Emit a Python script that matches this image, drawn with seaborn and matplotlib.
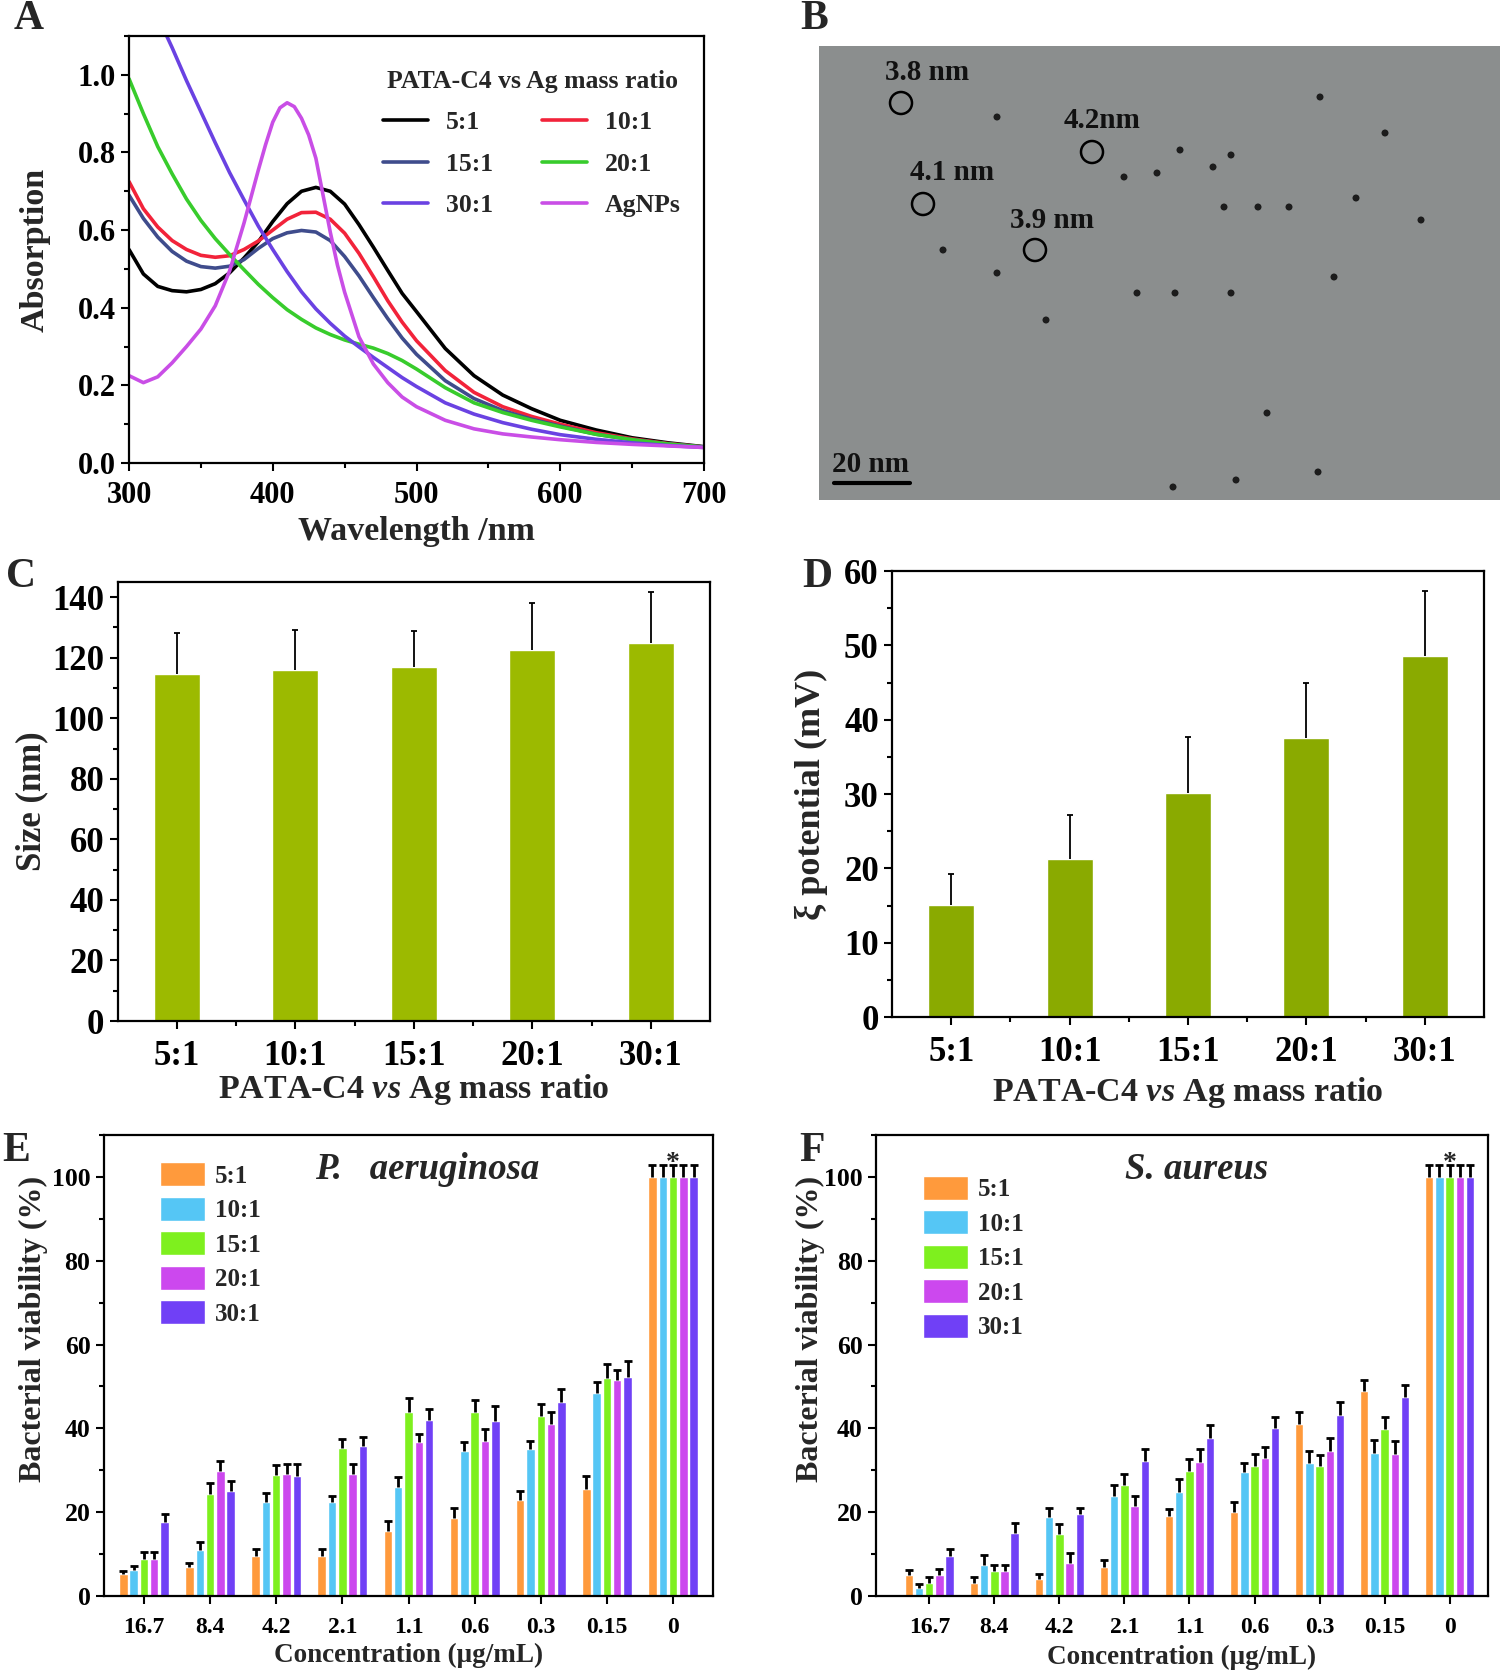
import numpy as np
import pandas as pd
import seaborn as sns
import matplotlib.pyplot as plt
from matplotlib.patches import Patch, Circle
from matplotlib.lines import Line2D
from matplotlib.ticker import MultipleLocator

# ---- panel A: UV-vis spectra ----
wavelength = [300, 310, 320, 330, 340, 350, 360, 370, 380, 390, 400, 410, 420, 430, 440,
              450, 460, 470, 480, 490, 500, 520, 540, 560, 580, 600, 625, 650, 675, 700]
abs_5 = [0.55, 0.487, 0.455, 0.444, 0.441, 0.447, 0.462, 0.49, 0.528, 0.57, 0.622, 0.668, 0.70, 0.71, 0.70,
         0.667, 0.614, 0.556, 0.496, 0.437, 0.39, 0.295, 0.225, 0.175, 0.14, 0.11, 0.085, 0.065, 0.052, 0.042]
abs_10 = [0.725, 0.655, 0.608, 0.573, 0.55, 0.535, 0.53, 0.534, 0.55, 0.572, 0.60, 0.628, 0.645, 0.646, 0.628,
          0.592, 0.54, 0.48, 0.418, 0.363, 0.315, 0.238, 0.182, 0.145, 0.12, 0.1, 0.078, 0.062, 0.05, 0.041]
abs_15 = [0.69, 0.63, 0.582, 0.545, 0.52, 0.506, 0.502, 0.507, 0.524, 0.553, 0.578, 0.593, 0.599, 0.595, 0.573,
          0.532, 0.482, 0.426, 0.372, 0.322, 0.28, 0.212, 0.166, 0.135, 0.113, 0.095, 0.074, 0.06, 0.049, 0.041]
abs_20 = [0.99, 0.90, 0.815, 0.745, 0.68, 0.625, 0.578, 0.537, 0.498, 0.46, 0.426, 0.395, 0.37, 0.348, 0.331,
          0.317, 0.306, 0.296, 0.282, 0.264, 0.242, 0.194, 0.155, 0.13, 0.11, 0.093, 0.074, 0.06, 0.049, 0.041]
abs_30 = [1.33, 1.24, 1.15, 1.07, 0.985, 0.905, 0.825, 0.748, 0.678, 0.61, 0.55, 0.493, 0.441, 0.397, 0.36,
          0.327, 0.299, 0.272, 0.246, 0.22, 0.197, 0.155, 0.126, 0.104, 0.087, 0.073, 0.061, 0.052, 0.045, 0.04]
wavelength_ag = [300, 310, 320, 330, 340, 350, 360, 370, 380, 390, 395, 400, 405, 410, 415, 420, 425, 430,
                 435, 440, 445, 450, 460, 470, 480, 490, 500, 520, 540, 560, 580, 600, 625, 650, 675, 700]
abs_ag = [0.225, 0.207, 0.222, 0.258, 0.30, 0.345, 0.405, 0.495, 0.618, 0.755, 0.82, 0.878, 0.915, 0.928, 0.918,
          0.888, 0.845, 0.785, 0.69, 0.595, 0.51, 0.44, 0.325, 0.255, 0.207, 0.17, 0.145, 0.11, 0.088, 0.075,
          0.067, 0.06, 0.053, 0.048, 0.044, 0.04]

# ---- panel B: TEM annotations (image pixel coords) ----
particle_circles = [(82, 57), (273, 106), (104, 158), (216, 204)]
particle_labels = ['3.8 nm', '4.2nm', '4.1 nm', '3.9 nm']
label_xy = [(66, 27), (245, 74), (91, 127), (191, 174)]
dark_dots = [(412, 109), (405, 161), (439, 161), (470, 161), (602, 174), (361, 104), (394, 121),
             (338, 127), (501, 51), (566, 87), (178, 71), (305, 131), (537, 152), (515, 231),
             (318, 247), (356, 247), (412, 247), (227, 274), (448, 367), (354, 441), (417, 434),
             (499, 426), (124, 204), (178, 227)]

# ---- panels C, D ----
ratios = ['5:1', '10:1', '15:1', '20:1', '30:1']
size_mean = [114.5, 116.0, 117.0, 122.7, 124.8]
size_err = [13.5, 13.0, 11.7, 15.2, 17.0]
zeta_mean = [15.1, 21.3, 30.1, 37.6, 48.6]
zeta_err = [4.2, 5.9, 7.6, 7.4, 8.7]

# ---- panels E, F ----
conc = ['16.7', '8.4', '4.2', '2.1', '1.1', '0.6', '0.3', '0.15', '0']
pa_mean = {
    '5:1': [5.2, 7.0, 9.6, 9.6, 15.6, 18.5, 22.9, 25.5, 100],
    '10:1': [6.2, 11.0, 22.4, 22.4, 26.0, 34.6, 35.0, 48.5, 100],
    '15:1': [8.8, 24.4, 28.8, 35.4, 43.8, 43.8, 43.0, 52.0, 100],
    '20:1': [8.8, 29.8, 29.2, 29.1, 36.8, 36.9, 41.0, 51.5, 100],
    '30:1': [17.6, 25.0, 28.6, 35.9, 42.0, 41.8, 46.2, 52.3, 100],
}
pa_err = {
    '5:1': [0.8, 0.8, 1.6, 1.6, 2.3, 2.6, 2.1, 3.1, 2.9],
    '10:1': [0.9, 1.8, 2.2, 1.5, 2.4, 2.2, 2.1, 2.5, 2.9],
    '15:1': [1.8, 2.6, 2.4, 2.0, 3.4, 3.0, 2.9, 3.3, 2.9],
    '20:1': [1.8, 2.5, 2.4, 2.3, 1.8, 2.9, 3.0, 2.4, 2.9],
    '30:1': [1.9, 2.4, 2.8, 2.1, 2.6, 3.5, 3.2, 3.7, 2.9],
}
sa_mean = {
    '5:1': [5.0, 3.0, 4.0, 7.0, 19.0, 20.0, 41.0, 49.0, 100],
    '10:1': [2.0, 7.5, 18.8, 23.9, 24.9, 29.5, 31.8, 34.2, 100],
    '15:1': [3.0, 6.0, 14.8, 26.4, 29.9, 31.0, 31.0, 39.8, 100],
    '20:1': [5.0, 6.0, 7.8, 21.5, 32.0, 33.0, 34.7, 34.0, 100],
    '30:1': [9.5, 15.1, 19.6, 32.2, 37.8, 40.2, 43.1, 47.5, 100],
}
sa_err = {
    '5:1': [1.2, 1.5, 1.2, 1.7, 1.8, 2.4, 2.9, 2.5, 2.9],
    '10:1': [0.8, 2.3, 2.3, 2.5, 2.9, 2.2, 2.7, 3.1, 2.9],
    '15:1': [1.5, 1.5, 2.4, 2.8, 2.7, 2.9, 2.6, 2.8, 2.9],
    '20:1': [1.5, 1.5, 2.4, 2.4, 3.0, 2.6, 3.1, 3.0, 2.9],
    '30:1': [1.7, 2.4, 1.5, 2.8, 2.9, 2.4, 3.3, 2.9, 2.9],
}

bar_colors = ['#ff9a3c', '#55c6f5', '#7ef01e', '#cc48ee', '#7040f6']
line_colors = {'5:1': '#000000', '10:1': '#f2233a', '15:1': '#3f4c8c',
               '20:1': '#38cc2c', '30:1': '#6a42e2', 'AgNPs': '#c94ee6'}

sns.set_style('ticks', {'axes.edgecolor': 'black', 'xtick.color': 'black', 'ytick.color': 'black'})
plt.rcParams['font.family'] = ['Liberation Serif', 'DejaVu Serif']
plt.rcParams['font.weight'] = 'bold'
plt.rcParams['axes.labelweight'] = 'bold'
plt.rcParams['mathtext.fontset'] = 'custom'
plt.rcParams['mathtext.it'] = 'Liberation Serif:italic:bold'
plt.rcParams['mathtext.rm'] = 'Liberation Serif:bold'
plt.rcParams['axes.linewidth'] = 1.6

W, H = 1505, 1676
fig = plt.figure(figsize=(W / 100, H / 100), dpi=100)


def box(left, top, right, bottom):
    return [left / W, 1 - bottom / H, (right - left) / W, (bottom - top) / H]


def style_ticks(ax, size, xpad=3.5):
    ax.tick_params(which='both', direction='out', width=1.5, labelsize=size)
    ax.tick_params(which='major', length=6)
    ax.tick_params(which='minor', length=3.5)
    ax.tick_params(axis='x', pad=xpad)
    for lab in ax.get_xticklabels() + ax.get_yticklabels():
        lab.set_fontweight('bold')


def upper_err(ax, xs, ys, errs, lw, cap):
    tops = np.array(ys) + np.array(errs)
    ax.vlines(xs, ys, tops, color='black', lw=lw)
    ax.plot(xs, tops, ls='none', marker='_', ms=cap, mew=lw, color='black')


# ---------------- A ----------------
ax_a = fig.add_axes(box(129, 36, 704, 463))
series = [('5:1', abs_5), ('10:1', abs_10), ('15:1', abs_15), ('20:1', abs_20), ('30:1', abs_30)]
for name, vals in series:
    sns.lineplot(x=wavelength, y=vals, color=line_colors[name], lw=2.6, ax=ax_a)
sns.lineplot(x=wavelength_ag, y=abs_ag, color=line_colors['AgNPs'], lw=2.6, ax=ax_a)
ax_a.set_xlim(300, 700)
ax_a.set_ylim(0, 1.1)
ax_a.set_xticks([300, 400, 500, 600, 700])
ax_a.set_yticks([0, 0.2, 0.4, 0.6, 0.8, 1.0])
ax_a.set_yticklabels([f'{v:.1f}' for v in [0, 0.2, 0.4, 0.6, 0.8, 1.0]])
ax_a.xaxis.set_minor_locator(MultipleLocator(50))
ax_a.yaxis.set_minor_locator(MultipleLocator(0.1))
style_ticks(ax_a, 22, xpad=7)
ax_a.set_xlabel('Wavelength /nm', fontsize=24.5)
ax_a.set_ylabel('Absorption', fontsize=24.5)
ax_a.yaxis.set_label_coords(-0.136, 0.5)
ax_a.xaxis.set_label_coords(0.5, -0.125)
order = ['5:1', '15:1', '30:1', '10:1', '20:1', 'AgNPs']
handles = [Line2D([], [], color=line_colors[k], lw=2.6) for k in order]
leg = ax_a.legend(handles, order, ncol=2, title='PATA-C4 vs Ag mass ratio', frameon=False,
                  loc='upper right', bbox_to_anchor=(1.0, 0.975), fontsize=18.5, title_fontsize=18.5,
                  handlelength=1.75, columnspacing=1.9, labelspacing=0.72, handletextpad=0.7)
leg.get_title().set_fontweight('bold')

# ---------------- B ----------------
ax_b = fig.add_axes(box(819, 46, 1500, 500))
ax_b.set_facecolor('#8b8e8e')
ax_b.set_xlim(0, 681)
ax_b.set_ylim(454, 0)
ax_b.set_xticks([])
ax_b.set_yticks([])
for s in ax_b.spines.values():
    s.set_visible(False)
for (x, y) in dark_dots:
    ax_b.add_patch(Circle((x, y), 3.5, color='#1c1c1c', lw=0))
for (x, y) in particle_circles:
    ax_b.add_patch(Circle((x, y), 11, fill=False, ec='black', lw=1.8))
for (x, y), t in zip(label_xy, particle_labels):
    ax_b.text(x, y, t, fontsize=21, fontweight='bold', va='center', ha='left', color='#111111')
ax_b.plot([15, 91], [437, 437], color='black', lw=3)
ax_b.text(13, 419, '20 nm', fontsize=21, fontweight='bold', va='center', ha='left', color='#111111')

# ---------------- C & D ----------------
def ratio_bars(ax, mean, err, color, major, minor, ylim):
    sns.barplot(x=ratios, y=mean, color=color, saturation=1, width=0.39, ax=ax)
    upper_err(ax, range(len(ratios)), mean, err, 1.3, 5)
    ax.set_xlim(-0.5, 4.5)
    ax.set_ylim(*ylim)
    ax.yaxis.set_major_locator(MultipleLocator(major))
    ax.yaxis.set_minor_locator(MultipleLocator(minor))
    ax.set_xticks([0.5, 1.5, 2.5, 3.5], minor=True)
    style_ticks(ax, 25, xpad=8)
    ax.set_xlabel(r'PATA-C4 $\it{vs}$ Ag mass ratio', fontsize=24.5)


ax_c = fig.add_axes(box(117.5, 582, 710, 1021))
ratio_bars(ax_c, size_mean, size_err, '#9cba00', 20, 10, (0, 145))
ax_c.set_ylabel('Size (nm)', fontsize=25)
ax_c.yaxis.set_label_coords(-0.117, 0.5)
ax_c.xaxis.set_label_coords(0.5, -0.116)

ax_d = fig.add_axes(box(892, 571, 1484, 1017))
ratio_bars(ax_d, zeta_mean, zeta_err, '#8aaa00', 10, 5, (0, 60))
ax_d.set_ylabel('ξ potential (mV)', fontsize=26)
ax_d.yaxis.set_label_coords(-0.108, 0.5)
ax_d.xaxis.set_label_coords(0.5, -0.131)

# ---------------- E & F ----------------
def viability(ax, means, errs, title, xlim, leg_anchor):
    df = pd.DataFrame({
        'conc': conc * len(ratios),
        'ratio': np.repeat(ratios, len(conc)),
        'viab': sum((means[r] for r in ratios), []),
    })
    sns.barplot(data=df, x='conc', y='viab', hue='ratio', order=conc, hue_order=ratios,
                palette=bar_colors, saturation=1, width=0.78, gap=0.18, legend=False,
                errorbar=None, ax=ax)
    for r, cont in zip(ratios, ax.containers):
        xs = [b.get_x() + b.get_width() / 2 for b in cont]
        ys = [b.get_height() for b in cont]
        upper_err(ax, xs, ys, errs[r], 2.0, 6)
    ax.text(8, 103.2, '*', ha='center', va='center', fontsize=20, fontweight='bold')
    ax.set_xlim(*xlim)
    ax.set_ylim(0, 110)
    ax.yaxis.set_major_locator(MultipleLocator(20))
    ax.yaxis.set_minor_locator(MultipleLocator(10))
    style_ticks(ax, 18.5, xpad=9)
    ax.tick_params(axis='x', labelsize=17)
    ax.set_xlabel('Concentration (μg/mL)', fontsize=19.5)
    ax.set_ylabel('Bacterial viability (%)', fontsize=23)
    handles = [Patch(facecolor=c) for c in bar_colors]
    ax.legend(handles, ratios, loc='upper left', bbox_to_anchor=leg_anchor, frameon=False,
              fontsize=18, handlelength=1.8, handleheight=1.1, labelspacing=0.36,
              handletextpad=0.4)
    ax.text(0.53, 0.926, title, transform=ax.transAxes, ha='center', va='center',
            fontsize=26.5, fontweight='bold', style='italic')


ax_e = fig.add_axes(box(103.6, 1135, 713.4, 1596))
viability(ax_e, pa_mean, pa_err, 'P.   aeruginosa', (-0.61, 8.61), (0.055, 0.99))
ax_e.yaxis.set_label_coords(-0.091, 0.58)
ax_e.xaxis.set_label_coords(0.5, -0.102)

ax_f = fig.add_axes(box(876, 1135, 1488, 1596))
viability(ax_f, sa_mean, sa_err, 'S. aureus', (-0.82, 8.59), (0.04, 0.96))
ax_f.yaxis.set_label_coords(-0.084, 0.58)
ax_f.xaxis.set_label_coords(0.5, -0.106)
ax_f.texts[-1].set_x(0.524)

# panel letters
for letter, (x, y) in zip('ABCDEF', [(29, 19), (814, 19), (21, 577), (817, 577), (16, 1151), (812, 1151)]):
    fig.text(x / W, 1 - y / H, letter, fontsize=30, fontweight='bold', ha='center', va='center')

fig.savefig('out.png', dpi=100)
